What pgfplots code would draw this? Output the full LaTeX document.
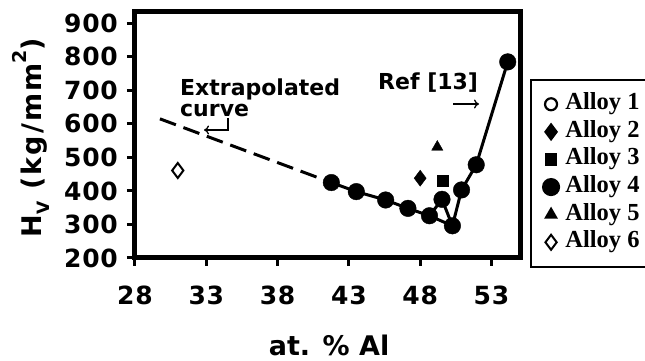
\documentclass[border=0pt]{standalone}
\usepackage{fontspec}
\setmainfont{DejaVu Sans}
\newfontfamily\legfont{Liberation Serif}
\usepackage{pgfplots}
\pgfplotsset{compat=1.18}
\usetikzlibrary{arrows.meta}
\begin{document}
\begin{tikzpicture}
\begin{axis}[
  at={(135pt,103pt)}, anchor=south west,
  scale only axis, width=385pt, height=246pt,
  xmin=28, xmax=55, ymin=200, ymax=933.7,
  xtick={28,33,38,43,48,53}, ytick={200,300,400,500,600,700,800,900},
  xtick pos=bottom, ytick pos=left,
  tick align=outside, major tick length=8pt,
  tick style={line width=3pt, black},
  axis line style={line width=5pt},
  /pgf/number format/assume math mode=true,
  /pgf/number format/1000 sep={},
  ticklabel style={font=\bfseries\fontsize{25}{25}\selectfont\addfontfeatures{LetterSpace=3}, inner sep=0pt},
  xticklabel style={anchor=north, yshift=-20pt},
  yticklabel style={anchor=east, xshift=-9pt},
  xlabel={at. \% Al},
  xlabel style={font=\bfseries\fontsize{27}{27}\selectfont, at={(axis description cs:0.504,-0.398)}, anchor=base, inner sep=0pt},
  ylabel={H\raisebox{-0.3em}{\fontsize{17}{17}\selectfont V} (kg/mm\raisebox{0.55em}{\fontsize{19}{19}\selectfont 2})},
  ylabel style={font=\bfseries\fontsize{27}{27}\selectfont\addfontfeatures{LetterSpace=8}, at={(axis description cs:-0.27,0.49)}, anchor=center, inner sep=0pt},
  legend style={at={(axis description cs:1.026,0.7276)}, anchor=north west,
    draw=black, line width=1.5pt, font=\legfont\bfseries\fontsize{24.5}{24.5}\selectfont,
    inner xsep=12pt, inner ysep=12pt, row sep=2.6pt,
    nodes={inner sep=1pt, text height=17pt, text depth=6pt},
    /tikz/every odd column/.append style={column sep=5pt}},
  legend cell align=left,
  clip=false,
]
% extrapolated curve
\addplot[black, line width=3pt, dash pattern=on 17pt off 8pt, forget plot] coordinates {(29.75,615) (41.77,425)};
% Alloy 4 connecting lines
\addplot[black, line width=3pt, forget plot] coordinates {
 (41.77,425) (43.52,398) (45.58,373) (47.14,348) (48.65,326) (50.26,296) (50.9,403) (51.93,478) (54.14,785)};
\addplot[black, line width=3pt, forget plot] coordinates {(48.65,326) (49.53,375) (50.26,296)};
% legend entry for Alloy 1 (no visible data)
\addlegendimage{only marks, mark=o, mark size=6pt, mark options={line width=2.2pt, black}}
\addlegendentry{Alloy 1}
\addplot[only marks, mark=diamond*, mark size=8pt, mark options={fill=black, draw=black}] coordinates {(48,438)};
\addlegendentry{Alloy 2}
\addplot[only marks, mark=square*, mark size=5.5pt, mark options={fill=black, draw=black}] coordinates {(49.55,430)};
\addlegendentry{Alloy 3}
\addplot[only marks, mark=*, mark size=8.3pt, mark options={fill=black, draw=black}] coordinates {
 (41.77,425) (43.52,398) (45.58,373) (47.14,348) (48.65,326) (49.53,375) (50.26,296) (50.9,403) (51.93,478) (54.14,785)};
\addlegendentry{Alloy 4}
\addplot[only marks, mark=triangle*, mark size=6.5pt, mark options={fill=black, draw=black}] coordinates {(49.2,531)};
\addlegendentry{Alloy 5}
\addplot[only marks, mark=diamond, mark size=7.5pt, mark options={fill=white, draw=black, line width=2pt}] coordinates {(31,461)};
\addlegendentry{Alloy 6}
\end{axis}
% annotations
\node[anchor=base west, inner sep=0pt, font=\bfseries\fontsize{22}{22}\selectfont] at (180pt,265pt) {Extrapolated};
\node[anchor=base west, inner sep=0pt, font=\bfseries\fontsize{22}{22}\selectfont] at (180pt,244pt) {curve};
\node[anchor=base west, inner sep=0pt, font=\bfseries\fontsize{22}{22}\selectfont] at (378pt,271pt) {Ref [13]};
\draw[line width=1.3pt, -{To[length=5pt,width=9pt]}] (453pt,257pt) -- (479pt,257pt);
\draw[line width=1.3pt, -{To[length=5pt,width=9pt]}] (228pt,243pt) -- (228pt,231pt) -- (204pt,231pt);
\pgfresetboundingbox
\path[use as bounding box] (0,0) rectangle (645pt,361pt);
\end{tikzpicture}
\end{document}
